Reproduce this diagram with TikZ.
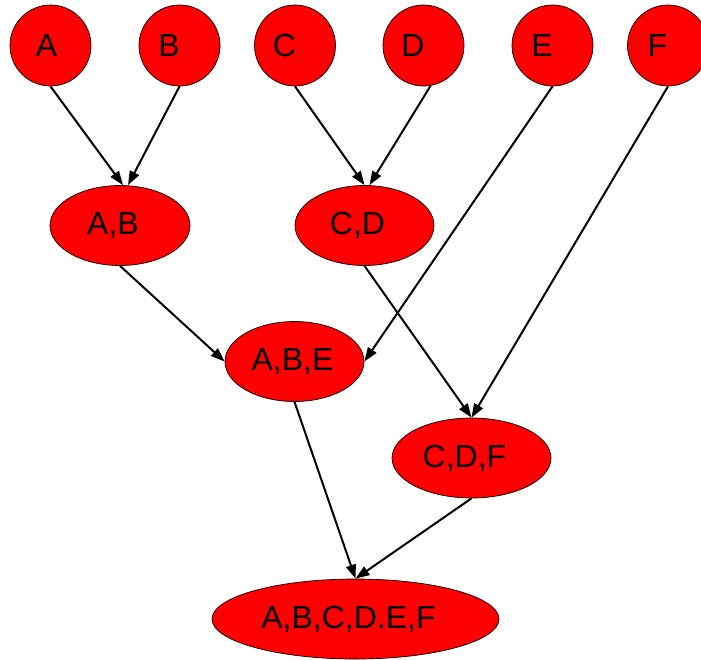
\documentclass[tikz,border=0pt]{standalone}
\usepackage{fontspec}
\setmainfont{Liberation Sans}
\usetikzlibrary{shapes.geometric,arrows.meta}

\begin{document}
\begin{tikzpicture}[x=1pt,y=-1pt,
    every node/.style={draw,fill=red,line width=0.7pt,inner sep=0pt,
      font=\fontsize{32}{38}\selectfont},
    leaf/.style={circle,minimum size=81pt,execute at end node={\kern#1}},
    leaf/.default=21pt,
    merge/.style={ellipse,minimum height=80pt,execute at end node={\kern#1}},
    merge/.default=14pt,
    edge/.style={draw,line width=2pt,-{Triangle[length=14pt,width=10pt]}}]

  \clip (0,0) rectangle (701,659);

  \node[leaf=8pt] (A) at (50.5,45.5) {A};
  \node[leaf] (B) at (179.5,45.5) {B};
  \node[leaf] (C) at (295,45.5) {C};
  \node[leaf] (D) at (423.5,45.5) {D};
  \node[leaf] (E) at (552.5,45.5) {E};
  \node[leaf] (F) at (668,45.5) {F};

  \node[merge,minimum width=140pt] (AB) at (120,225.5) {A,B};
  \node[merge,minimum width=139pt] (CD) at (364.5,225.5) {C,D};
  \node[merge=4pt,minimum width=139pt] (ABE) at (294.5,361.5) {A,B,E};
  \node[merge,minimum width=159pt] (CDF) at (471.5,458) {C,D,F};
  \node[merge,minimum width=287pt] (ABCDEF) at (355.5,619) {A,B,C,D.E,F};

  \draw[edge] (A.south) -- ([xshift=3pt]AB.north);
  \draw[edge] (B.south) -- ([xshift=8pt]AB.north);
  \draw[edge] (C.south) -- (CD.north);
  \draw[edge] (D.-80) -- ([xshift=5pt]CD.north);
  \draw[edge] (E.south) -- (ABE.east);
  \draw[edge] (F.south) -- (CDF.north);
  \draw[edge] (AB.south) -- (ABE.west);
  \draw[edge] (CD.south) -- (CDF.north);
  \draw[edge] (ABE.south) -- (ABCDEF.north);
  \draw[edge] (CDF.south) -- (ABCDEF.north);
\end{tikzpicture}
\end{document}
